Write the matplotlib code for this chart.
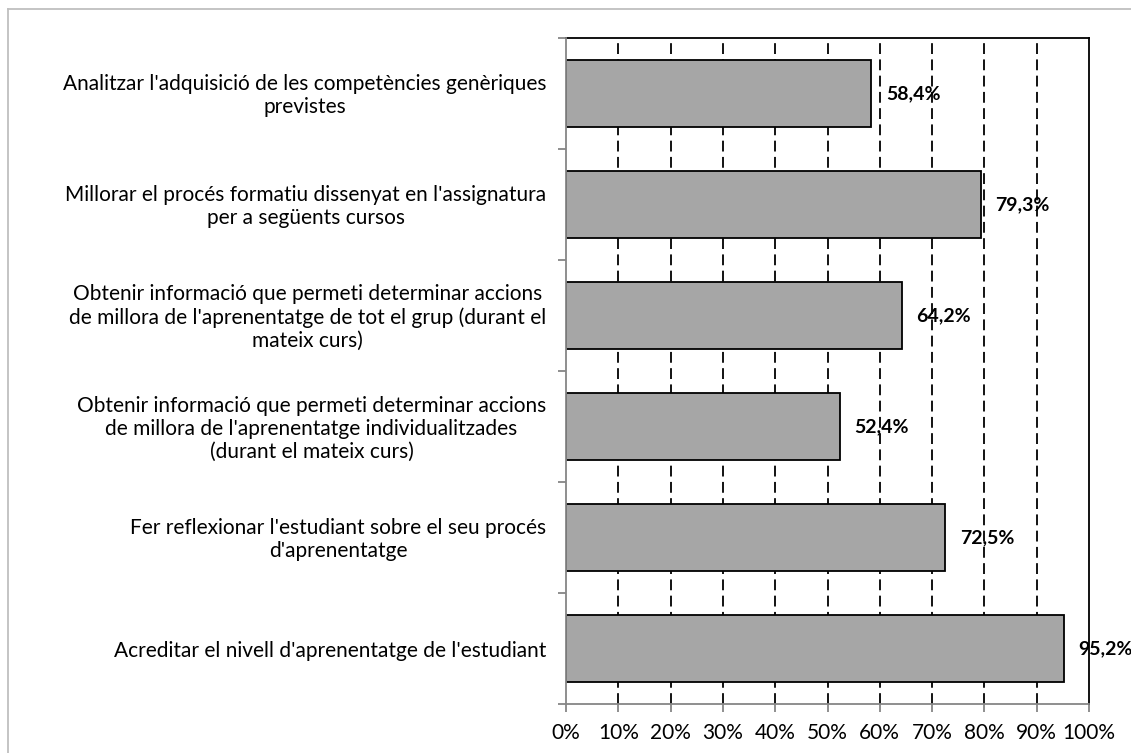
import matplotlib
matplotlib.use("Agg")
import matplotlib.pyplot as plt
from matplotlib.lines import Line2D
import numpy as np

categories = [
    "Analitzar l'adquisició de les competències genèriques\nprevistes",
    "Millorar el procés formatiu dissenyat en l'assignatura\nper a següents cursos",
    "Obtenir informació que permeti determinar accions\nde millora de l'aprenentatge de tot el grup (durant el\nmateix curs)",
    "Obtenir informació que permeti determinar accions\nde millora de l'aprenentatge individualitzades\n(durant el mateix curs)",
    "Fer reflexionar l'estudiant sobre el seu procés\nd'aprenentatge",
    "Acreditar el nivell d'aprenentatge de l'estudiant",
]
values = [58.4, 79.3, 64.2, 52.4, 72.5, 95.2]
value_labels = ["58,4%", "79,3%", "64,2%", "52,4%", "72,5%", "95,2%"]
xticks = [0, 10, 20, 30, 40, 50, 60, 70, 80, 90, 100]
xtick_labels = [f"{t}%" for t in xticks]

plt.rcParams['font.family'] = ['Lato', 'DejaVu Sans']
FS = 15

fig = plt.figure(figsize=(11.31, 7.53), dpi=100)
ax = fig.add_axes([566/1131, 1-704/753, (1089-566)/1131, (704-38)/753])

n = len(categories)
ypos = np.arange(n)[::-1]  # first category at top
ax.barh(ypos, values, height=0.6, color='#A6A6A6', edgecolor='black', linewidth=1.3, zorder=3)

ax.set_xlim(0, 100)
ax.set_ylim(-0.5, n - 0.5)

# dashed gridlines
for t in xticks[1:-1]:
    ax.axvline(t, color='black', linestyle=(0, (6, 3)), linewidth=1.3, zorder=1)

# spines
ax.spines['top'].set_color('black')
ax.spines['right'].set_color('black')
ax.spines['top'].set_linewidth(1.3)
ax.spines['right'].set_linewidth(1.3)
ax.spines['left'].set_color('#868686')
ax.spines['bottom'].set_color('#868686')
ax.spines['left'].set_linewidth(1.3)
ax.spines['bottom'].set_linewidth(1.3)
ax.spines['left'].set_zorder(4)

ax.set_xticks(xticks)
ax.set_xticklabels(xtick_labels, fontsize=FS)
ax.tick_params(axis='x', direction='out', length=6, width=1.3, color='#868686', pad=8)

# y ticks at boundaries
ax.set_yticks(np.arange(-0.5, n, 1.0))
ax.set_yticklabels([])
ax.tick_params(axis='y', direction='out', length=6, width=1.3, color='#868686')

for y, cat in zip(ypos, categories):
    ax.text(-3.8, y - 0.02, cat, ha='right', va='center', multialignment='center',
            fontsize=FS, transform=ax.transData, linespacing=1.2)

for y, v, lab in zip(ypos, values, value_labels):
    ax.text(v + 2.8, y, lab, ha='left', va='center', fontsize=14,
            fontweight='bold', zorder=5, clip_on=False)

# outer chart border (top and left visible)
fig.add_artist(Line2D([8/1131, 8/1131], [0, 1-9/753], transform=fig.transFigure,
                      color='#BFBFBF', linewidth=1.3))
fig.add_artist(Line2D([8/1131, 1], [1-9/753, 1-9/753], transform=fig.transFigure,
                      color='#BFBFBF', linewidth=1.3))

fig.savefig("out.png", dpi=100)
